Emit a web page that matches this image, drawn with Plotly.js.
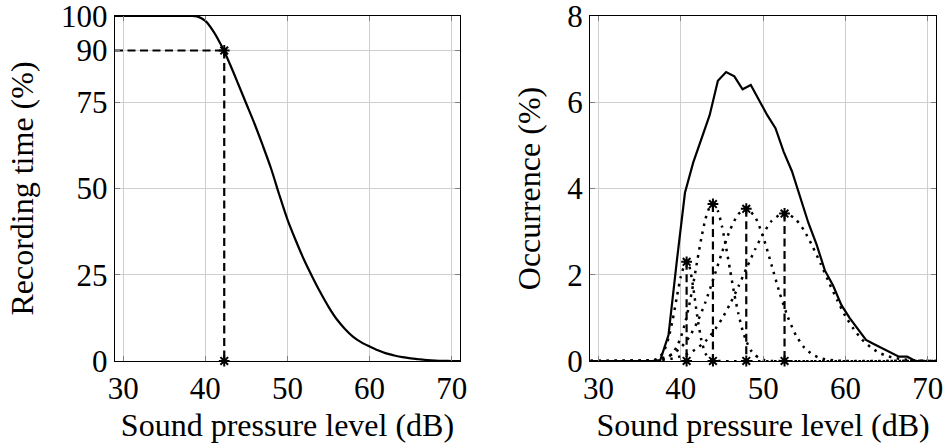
<!DOCTYPE html>
<html>
<head>
<meta charset="utf-8">
<script src="https://cdn.plot.ly/plotly-3.0.1.min.js"></script>
<style>html,body{margin:0;padding:0;background:#fff}#chart{width:948px;height:447px}</style>
</head>
<body>
<div id="chart"></div>
<script>
// ---- Left panel: recording time exceeding level (%)
const recLevels = [29,30,31,32,33,34,35,36,37,38,39,40,41,42,43,44,45,46,47,48,49,50,51,52,53,54,55,56,57,58,59,60,61,62,63,64,65,66,67,68,69,70,71];
const recTime = [100,100,100,100,100,100,100,100,100,100,99.9,98.6,95.5,91.2,86.0,80.3,74.5,68.7,62.4,55.8,48.2,41.0,35.0,29.4,24.5,19.9,15.7,12.1,9.3,7.0,5.4,4.2,3.1,2.2,1.6,1.1,0.75,0.5,0.27,0.12,0.04,0,0];
const l90Level = 42.3;
const l90Percent = 90;

// ---- Right panel: occurrence distribution (%)
const occLevels = [29,36.5,37.5,38.5,39.5,40.5,41.5,42.5,43.5,44.5,45.5,46.5,47.5,48.5,49.5,50.5,51.5,52.5,53.5,54.5,55.5,56.5,57.5,58.5,59.5,60.5,61.5,62.5,63.5,64.5,65.5,66.5,67.5,68.5,71];
const occurrence = [0,0,0.02,0.6,2.3,3.9,4.6,5.15,5.7,6.5,6.7,6.6,6.3,6.4,6.05,5.7,5.4,4.85,4.4,3.8,3.2,2.7,2.1,1.75,1.3,1.0,0.75,0.49,0.39,0.29,0.2,0.1,0.1,0,0];

const comp1Levels = [29,36.5,37,37.5,38,38.5,39,39.5,40,40.5,40.7,41,41.5,42,42.5,43,43.5,44,44.5,71];
const comp1 = [0,0.01,0.04,0.11,0.25,0.53,0.95,1.47,1.96,2.26,2.30,2.22,1.71,1.03,0.48,0.17,0.05,0.01,0,0];
const comp2Levels = [29,37,37.5,38,38.5,39,39.5,40,40.5,41,41.5,42,42.5,43,43.5,43.9,44.5,45,45.5,46,46.5,47,47.5,48,48.5,49,49.5,50,50.5,51,71];
const comp2 = [0,0.01,0.02,0.05,0.10,0.18,0.33,0.55,0.87,1.28,1.78,2.33,2.86,3.30,3.57,3.64,3.48,3.12,2.63,2.09,1.55,1.09,0.71,0.44,0.25,0.14,0.07,0.03,0.01,0,0];
const comp3Levels = [29,36,37,38,39,40,41,42,43,44,45,46,47,47.95,49,50,51,52,53,54,55,56,57,58,59,60,71];
const comp3 = [0,0.01,0.03,0.08,0.16,0.31,0.55,0.90,1.37,1.93,2.52,3.05,3.41,3.53,3.35,2.88,2.24,1.58,1.02,0.59,0.31,0.15,0.06,0.03,0.01,0,0];
const comp4Levels = [29,36,37,38,39,40,41,42,43,44,45,46,47,48,49,50,51,52,52.6,53,54,55,56,57,58,59,60,61,62,63,64,65,66,67,68,69,70,71];
const comp4 = [0,0.01,0.02,0.03,0.06,0.11,0.18,0.30,0.46,0.69,0.98,1.33,1.73,2.16,2.58,2.95,3.24,3.39,3.42,3.41,3.28,3.02,2.66,2.25,1.82,1.41,1.04,0.74,0.50,0.33,0.20,0.12,0.07,0.04,0.02,0.01,0,0];

const peakLevels = [40.7, 43.9, 47.95, 52.6];
const peakValues = [2.30, 3.64, 3.53, 3.42];

const xTicks = [30,40,50,60,70];
const recTicks = [0,25,50,75,90,100];
const occTicks = [0,2,4,6,8];
const xTitle = 'Sound pressure level (dB)';
const recTitle = 'Recording time (%)';
const occTitle = 'Occurrence (%)';

const FONT = "'Liberation Serif', serif";
const DASH = '8px,4.5px';
const DOT = '2.5px,5.5px';
const starMarker = {symbol:'asterisk-open', size:9, color:'#000', line:{color:'#000', width:2}};

const traces = [];
// left
traces.push({x:recLevels, y:recTime, xaxis:'x', yaxis:'y', mode:'lines', line:{color:'#000', width:2.2, shape:'spline', smoothing:0.8}, hoverinfo:'x+y'});
traces.push({x:[recLevels[0], l90Level], y:[l90Percent, l90Percent], xaxis:'x', yaxis:'y', mode:'lines', line:{color:'#000', width:2.2, dash:DASH}});
traces.push({x:[l90Level, l90Level], y:[l90Percent, 0], xaxis:'x', yaxis:'y', mode:'lines+markers', line:{color:'#000', width:2.2, dash:DASH}, marker:starMarker, cliponaxis:false});

// right
[[comp1Levels,comp1],[comp2Levels,comp2],[comp3Levels,comp3],[comp4Levels,comp4]].forEach(function(c){
  traces.push({x:c[0], y:c[1], xaxis:'x2', yaxis:'y2', mode:'lines', line:{color:'#000', width:2.5, dash:DOT, shape:'spline', smoothing:0.6}});
});
traces.push({x:occLevels, y:occurrence, xaxis:'x2', yaxis:'y2', mode:'lines', line:{color:'#000', width:2.2}});
peakLevels.forEach(function(p, i){
  traces.push({x:[p, p], y:[peakValues[i], 0], xaxis:'x2', yaxis:'y2', mode:'lines+markers', line:{color:'#000', width:2.2, dash:DASH}, marker:starMarker, cliponaxis:false});
});

const titleFont = {family:FONT, size:32, color:'#000'};
const axBase = {
  showgrid:true, gridcolor:'#cfcfcf', gridwidth:1, zeroline:false,
  showline:true, linecolor:'#000', linewidth:1.3, mirror:'ticks',
  ticks:'inside', ticklen:5, tickwidth:1, tickcolor:'#808080',
  tickfont:{family:FONT, size:31, color:'#000'},
  ticklabeloverflow:'allow',
  fixedrange:true
};
function ax(o){ return Object.assign({}, axBase, o); }

const layout = {
  width:948, height:447,
  margin:{l:0, r:0, t:0, b:0},
  paper_bgcolor:'#fff', plot_bgcolor:'#fff',
  showlegend:false,
  font:{family:FONT, color:'#000', size:31},
  xaxis: ax({domain:[0.1213,0.4852], range:[29,71], tickvals:xTicks, anchor:'y',
             title:{text:xTitle, font:titleFont, standoff:8}}),
  yaxis: ax({domain:[0.1924,0.9642], range:[0,100], tickvals:recTicks, anchor:'x',
             title:{text:recTitle, font:titleFont, standoff:17}}),
  xaxis2: ax({domain:[0.6227,0.9873], range:[29,71], tickvals:xTicks, anchor:'y2',
             title:{text:xTitle, font:titleFont, standoff:8}}),
  yaxis2: ax({domain:[0.1924,0.9642], range:[0,8], tickvals:occTicks, anchor:'x2',
             title:{text:occTitle, font:titleFont, standoff:17}})
};

Plotly.newPlot('chart', traces, layout, {staticPlot:true, displayModeBar:false});
</script>
</body>
</html>
